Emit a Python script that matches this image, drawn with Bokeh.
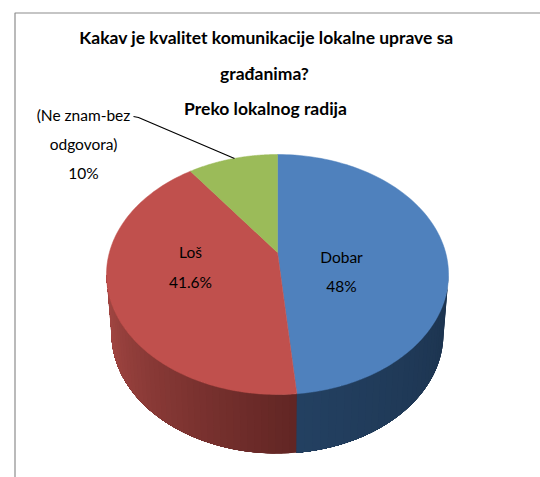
import numpy as np
from bokeh.plotting import figure
from bokeh.embed import file_html
from bokeh.resources import INLINE
from bokeh.core.properties import value

# Category names and the percentages printed on the chart
categories = ["Dobar", "Loš", "(Ne znam-bez odgovora)"]
printed_values = ["48%", "41.6%", "10%"]
# Share of the ellipse each slice visibly occupies in the drawing (clockwise from 12 o'clock)
drawn_shares = [48.2, 43.3, 8.5]
colors_top = ["#4f81bd", "#c0504d", "#9bbb59"]
title_lines = ["Kakav je kvalitet komunikacije lokalne uprave sa", "građanima?", "Preko lokalnog radija"]

W, H = 540, 477
p = figure(width=W, height=H, x_range=(0, W), y_range=(H, 0), toolbar_location=None,
           output_backend="svg", min_border=0, outline_line_color=None, background_fill_color="white")
p.axis.visible = False
p.grid.visible = False

CX, CY, RX, RY = 277.0, 274.0, 171.0, 120.0      # top face
BCX, BCY, BRX, BRY = 277.0, 333.0, 166.0, 120.0  # bottom rim
AX, AY = 277.0, 252.0                            # apex of the wedges


def top_pt(a):
    return CX + RX * np.sin(a), CY - RY * np.cos(a)


def bot_pt(a):
    return BCX + BRX * np.sin(a), BCY - BRY * np.cos(a)


fractions = np.cumsum([0.0] + drawn_shares) / sum(drawn_shares)
angles = fractions * 2 * np.pi


def mix(c1, c2, t):
    a = np.array(c1, float)
    b = np.array(c2, float)
    r = a + (b - a) * t
    return "#%02x%02x%02x" % tuple(int(round(v)) for v in r)


# Side wall: strips painted in order, each overlapping the next one to avoid seams
boundary = angles[1]
END = 3 * np.pi / 2
groups = [
    (np.pi / 2, boundary, (0x1c, 0x33, 0x4e), (0x23, 0x40, 0x61), 30),
    (boundary, END, (0x62, 0x26, 0x24), (0xa6, 0x48, 0x44), 40),
]
for g0, g1, c0, c1, n in groups:
    edges = np.linspace(g0, g1, n + 1)
    for k in range(n):
        col = mix(c0, c1, k / (n - 1))
        a = np.linspace(edges[k], g1, 60)
        xt, yt = top_pt(a)
        xb, yb = bot_pt(a)
        p.patch(np.r_[xt, xb[::-1]], np.r_[yt, yb[::-1]], fill_color=col, line_color=None)

# Top face
for i in range(len(categories)):
    a = np.linspace(angles[i], angles[i + 1], 120)
    x, y = top_pt(a)
    p.patch(np.r_[AX, x], np.r_[AY, y], fill_color=colors_top[i], line_color=colors_top[i], line_width=0.5)

# Frame
p.line([14.5, 14.5, 540], [477, 12.5, 12.5], line_color="#8c8c8c", line_width=1.2)

# Leader
p.line([133, 138, 234], [116, 117, 158], line_color="black", line_width=1.2)

FONT = value("Lato")
p.text([266, 264, 265], [37, 73, 108], text=title_lines, text_font=FONT, text_font_style="bold",
       text_font_size="17.5px", text_align="center", text_baseline="middle", text_color="black")

lx = [341, 341, 190, 190, 83, 83, 83]
ly = [256, 285, 251, 281, 114, 143, 172]
lt = [categories[0], printed_values[0], categories[1], printed_values[1], "(Ne znam-bez", "odgovora)", printed_values[2]]
p.text(lx, ly, text=lt, text_font=FONT, text_font_size="15.5px", text_align="center",
       text_baseline="middle", text_color="black")

open("out.html", "w").write(file_html(p, INLINE))
